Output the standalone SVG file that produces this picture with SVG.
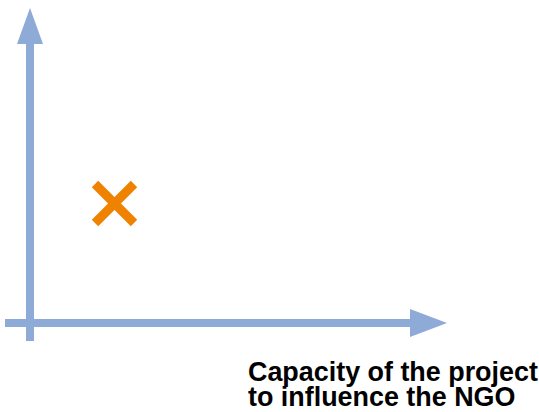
<svg xmlns="http://www.w3.org/2000/svg" width="539" height="412" viewBox="0 0 539 412">
  <style>
    .axis { stroke: #8eaad6; stroke-width: 8; fill: none; }
    .head { fill: #8eaad6; }
    .mark { stroke: #ef8200; stroke-width: 9; fill: none; }
    .label { font-family: "Liberation Sans", Arial, sans-serif; font-weight: bold; font-size: 26.9px; fill: #000; }
  </style>
  <g id="connectors">
    <!-- vertical axis -->
    <line class="axis" x1="30" y1="341" x2="30" y2="42"/>
    <polygon class="head" points="30,8 43,44 17,44"/>
    <!-- horizontal axis -->
    <line class="axis" x1="5" y1="323" x2="412" y2="323"/>
    <polygon class="head" points="447,323 410,309 410,337"/>
  </g>
  <g id="point">
    <line class="mark" x1="95" y1="184" x2="134" y2="223"/>
    <line class="mark" x1="134" y1="184" x2="95" y2="223"/>
  </g>
  <g id="x-label">
    <text class="label" x="248" y="381">Capacity of the project</text>
    <text class="label" x="248" y="405.5">to influence the NGO</text>
  </g>
</svg>
